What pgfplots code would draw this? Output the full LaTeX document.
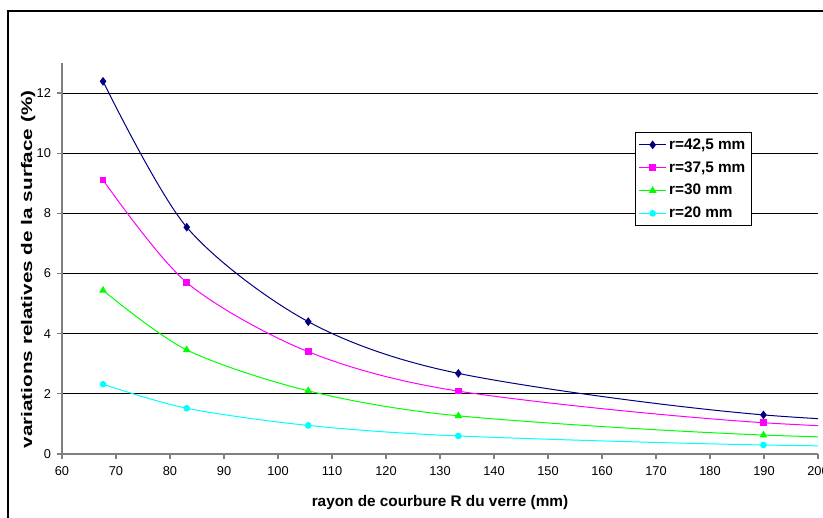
\documentclass[border=0pt]{standalone}
\usepackage{graphicx}
\usepackage{pgfplots}
\pgfplotsset{compat=1.18}
\usepackage{fontspec}
\setmainfont{Liberation Sans}
\definecolor{navyc}{RGB}{0,0,128}
\definecolor{magc}{RGB}{255,0,255}
\definecolor{grnc}{RGB}{0,255,0}
\definecolor{cyac}{RGB}{0,255,255}
\definecolor{axgray}{RGB}{128,128,128}
\begin{document}
\begin{tikzpicture}
\useasboundingbox (0pt,0pt) rectangle (617.25pt,387.75pt);
\draw[black, line width=0.8pt] (6pt,-20pt) -- (6pt,379.5pt) -- (640pt,379.5pt);
\begin{axis}[
  at={(46.5pt,47.25pt)}, anchor=south west, scale only axis,
  width=567pt, height=293.25pt,
  xmin=60, xmax=200, ymin=0, ymax=13,
  xtick={60,70,...,200}, ytick={0,2,...,12},
  axis x line*=bottom, axis y line*=left,
  axis line style={axgray, line width=1.3pt, -},
  major tick length=3.75pt, tick align=outside,
  tick style={axgray, line width=0.9pt},
  ymajorgrids, major grid style={black, line width=0.75pt},
  /pgf/number format/assume math mode=true,
  ticklabel style={font=\fontsize{9.6}{11}\selectfont},
  yticklabel style={xshift=-1pt},
  xticklabel style={yshift=-2pt},
  xlabel={rayon de courbure R du verre (mm)},
  ylabel={\scalebox{1.35}[1]{variations relatives de la surface (\%)}},
  xlabel style={font=\bfseries\fontsize{11.5}{13}\selectfont, at={(axis description cs:0.5,0)}, anchor=base, yshift=-39.5pt},
  ylabel style={font=\bfseries\fontsize{11.5}{13}\selectfont, at={(axis description cs:-0.0395,0.472)}, anchor=base},
  legend style={at={(0.758,0.8235)}, anchor=north west, draw=black, line width=0.75pt,
    font=\bfseries\fontsize{11.5}{13}\selectfont, inner sep=2.5pt,
    row sep=3.6pt},
  legend cell align=left,
  legend image code/.code={\draw[mark repeat=2,mark phase=2] plot coordinates {(0cm,0cm) (0.35cm,0cm) (0.7cm,0cm)};},
  every axis plot/.append style={line width=0.75pt, smooth},
]
\addplot[navyc, mark=diamond*, mark size=2.7pt, mark options={solid, fill=navyc}] coordinates {
 (67.6,12.39) (83.1,7.54) (105.6,4.40) (133.4,2.68) (189.9,1.30) (266,0.66)};
\addlegendentry{r=42,5 mm}
\addplot[magc, mark=square*, mark size=2.1pt, mark options={solid, fill=magc}] coordinates {
 (67.6,9.11) (83.1,5.70) (105.6,3.40) (133.4,2.09) (189.9,1.04) (266,0.53)};
\addlegendentry{r=37,5 mm}
\addplot[grnc, mark=triangle*, mark size=2.6pt, mark options={solid, fill=grnc}] coordinates {
 (67.6,5.44) (83.1,3.46) (105.6,2.10) (133.4,1.27) (189.9,0.63) (266,0.32)};
\addlegendentry{r=30 mm}
\addplot[cyac, mark=*, mark size=2.1pt, mark options={solid, fill=cyac}] coordinates {
 (67.6,2.32) (83.1,1.52) (105.6,0.95) (133.4,0.60) (189.9,0.30) (266,0.15)};
\addlegendentry{r=20 mm}
\end{axis}
\end{tikzpicture}
\end{document}
